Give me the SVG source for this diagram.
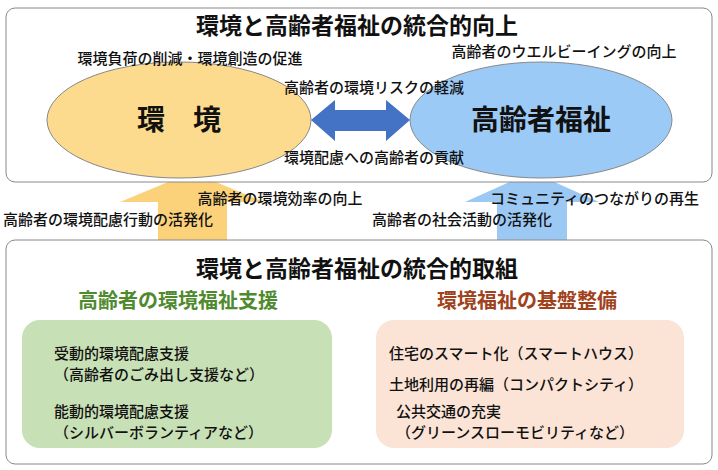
<svg xmlns="http://www.w3.org/2000/svg" width="718" height="470" viewBox="0 0 718 470">
<style>
text{font-family:"Noto Sans CJK JP","Noto Sans",sans-serif;fill:#111;font-weight:500}
.s{font-size:15px}
.t{font-size:23px;font-weight:bold;text-anchor:middle}
.b{font-size:28px;font-weight:bold;text-anchor:middle}
.h{font-size:20px;font-weight:bold;text-anchor:middle}
.c{text-anchor:middle}
.box{fill:#fff;stroke:#888;stroke-width:1}
</style>
<rect width="718" height="470" fill="#fff"/>
<g id="connectors">
<polygon points="192,172 264,202 227,202 227,240 158,240 158,202 120,202" fill="#fbd27a"/>
<polygon points="532,172 599,202 567,202 567,240 497,240 497,202 465,202" fill="#9cc8f4"/>
</g>
<g id="top">
<rect class="box" x="6" y="8" width="706" height="174" rx="9"/>
<text class="t" x="357" y="34">環境と高齢者福祉の統合的向上</text>
</g>
<g id="env">
<ellipse cx="179" cy="120" rx="132" ry="58" fill="#fcdb8e" stroke="#888"/>
<text class="b" x="179" y="130">環　境</text>
<text class="s c" x="190" y="64">環境負荷の削減・環境創造の促進</text>
</g>
<g id="welfare">
<ellipse cx="541" cy="120" rx="131" ry="58" fill="#9ccaf6" stroke="#888"/>
<text class="b" x="541" y="130">高齢者福祉</text>
<text class="s c" x="564" y="57">高齢者のウエルビーイングの向上</text>
</g>
<g id="connectors2">
<polygon points="311,120 335,100 335,110 386,110 386,100 410,120 386,141 386,131 335,131 335,141" fill="#4472c4"/>
<text class="s c" x="374" y="93">高齢者の環境リスクの軽減</text>
<text class="s c" x="374" y="163">環境配慮への高齢者の貢献</text>
<text class="s c" x="280" y="204">高齢者の環境効率の向上</text>
<text class="s" x="3" y="225">高齢者の環境配慮行動の活発化</text>
<text class="s" x="490" y="204">コミュニティのつながりの再生</text>
<text class="s" x="372" y="225">高齢者の社会活動の活発化</text>
</g>
<g id="bottom">
<rect class="box" x="6" y="240" width="706" height="224" rx="9"/>
<text class="t" x="357" y="277">環境と高齢者福祉の統合的取組</text>
</g>
<g id="support">
<text class="h" x="178" y="308" style="fill:#4f8a2f">高齢者の環境福祉支援</text>
<rect x="22" y="320" width="310" height="128" rx="18" fill="#c8e0b6"/>
<text class="s" x="54" y="359">受動的環境配慮支援</text>
<text class="s" x="54" y="380">（高齢者のごみ出し支援など）</text>
<text class="s" x="54" y="417">能動的環境配慮支援</text>
<text class="s" x="54" y="438">（シルバーボランティアなど）</text>
</g>
<g id="infra">
<text class="h" x="527" y="308" style="fill:#a0421c">環境福祉の基盤整備</text>
<rect x="376" y="320" width="308" height="128" rx="18" fill="#fbe4d6"/>
<text class="s" x="389" y="359">住宅のスマート化（スマートハウス）</text>
<text class="s" x="389" y="390">土地利用の再編（コンパクトシティ）</text>
<text class="s" x="396" y="417">公共交通の充実</text>
<text class="s" x="396" y="438">（グリーンスローモビリティなど）</text>
</g>
</svg>
